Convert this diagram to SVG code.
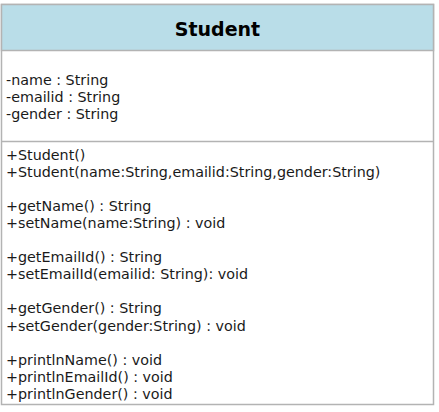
<svg xmlns="http://www.w3.org/2000/svg" width="439" height="412" viewBox="0 0 439 412">
<style>
.box{fill:#ffffff;stroke:#b3b3b3;stroke-width:1.5}
.hdr{fill:#b9dde8;stroke:#b3b3b3;stroke-width:1.5}
.sep{stroke:#b3b3b3;stroke-width:1.5;fill:none}
.title{font-family:"DejaVu Sans",Verdana,sans-serif;font-weight:bold;font-size:19px;fill:#000;text-anchor:middle}
.t{font-family:"DejaVu Sans",Verdana,sans-serif;font-size:14.3px;fill:#1a1a1a}
</style>
<rect width="439" height="412" fill="#ffffff"/>
<g id="Student">
<rect class="box" x="1.5" y="4.5" width="432" height="400"/>
<rect class="hdr" x="1.5" y="4.5" width="432" height="46"/>
<line class="sep" x1="1.5" y1="141.5" x2="433.5" y2="141.5"/>
<text class="title" x="217.5" y="36">Student</text>
<text class="t" x="6" y="84.5">-name : String</text>
<text class="t" x="6" y="101.5">-emailid : String</text>
<text class="t" x="6" y="118.5">-gender : String</text>
<text class="t" x="6" y="159.5">+Student()</text>
<text class="t" x="6" y="176.6">+Student(name:String,emailid:String,gender:String)</text>
<text class="t" x="6" y="210.8">+getName() : String</text>
<text class="t" x="6" y="227.9">+setName(name:String) : void</text>
<text class="t" x="6" y="262.1">+getEmailId() : String</text>
<text class="t" x="6" y="279.2">+setEmailId(emailid: String): void</text>
<text class="t" x="6" y="313.4">+getGender() : String</text>
<text class="t" x="6" y="330.5">+setGender(gender:String) : void</text>
<text class="t" x="6" y="364.7">+printlnName() : void</text>
<text class="t" x="6" y="381.8">+printlnEmailId() : void</text>
<text class="t" x="6" y="398.9">+printlnGender() : void</text>
</g>
<g id="connectors"></g>
</svg>
